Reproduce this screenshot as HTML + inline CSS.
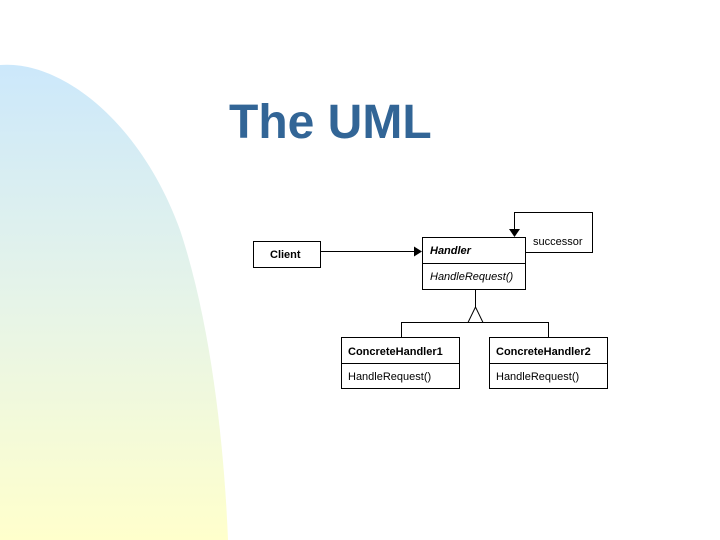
<!DOCTYPE html>
<html><head><meta charset="utf-8"><style>
html,body{margin:0;padding:0;background:#fff;width:720px;height:540px;overflow:hidden}
</style></head><body>
<svg width="720" height="540" xmlns="http://www.w3.org/2000/svg" font-family="Liberation Sans, sans-serif">
<defs><linearGradient id="g" x1="0" y1="0" x2="0" y2="1">
<stop offset="0" stop-color="#cce8fb"/><stop offset="0.5" stop-color="#e6f4e8"/><stop offset="1" stop-color="#ffffcc"/></linearGradient></defs>
<path d="M0,65 C60,60 140,120 180,230 C210,320 224,440 228,540 L0,540 Z" fill="url(#g)"/>
<text x="229" y="138" font-size="48" font-weight="bold" fill="#326596">The UML</text>
<g stroke="#000" stroke-width="1" fill="#fff">
<rect x="253.5" y="241.5" width="67" height="26"/>
<rect x="422.5" y="237.5" width="103" height="52"/>
<line x1="422" y1="263.5" x2="525" y2="263.5"/>
<rect x="341.5" y="337.5" width="118" height="51"/>
<line x1="341" y1="363.5" x2="459" y2="363.5"/>
<rect x="489.5" y="337.5" width="118" height="51"/>
<line x1="489" y1="363.5" x2="607" y2="363.5"/>
<polyline points="525,252.5 592.5,252.5 592.5,212.5 514.5,212.5 514.5,230" fill="none"/>
<line x1="320" y1="251.5" x2="414" y2="251.5"/>
<line x1="475.5" y1="289" x2="475.5" y2="307"/>
<polygon points="475.5,307 468,322.5 483,322.5"/>
<polyline points="401.5,337 401.5,322.5 548.5,322.5 548.5,337" fill="none"/>
</g>
<polygon points="509,229 520,229 514.5,237" fill="#000"/>
<polygon points="414,246.5 414,256.5 422,251.5" fill="#000"/>
<g font-size="11" fill="#000">
<text x="270" y="258" font-weight="bold">Client</text>
<text x="430" y="254" font-weight="bold" font-style="italic">Handler</text>
<text x="430" y="280" font-style="italic">HandleRequest()</text>
<text x="533" y="245">successor</text>
<text x="348" y="355" font-weight="bold">ConcreteHandler1</text>
<text x="348" y="380">HandleRequest()</text>
<text x="496" y="355" font-weight="bold">ConcreteHandler2</text>
<text x="496" y="380">HandleRequest()</text>
</g>
</svg>
</body></html>
